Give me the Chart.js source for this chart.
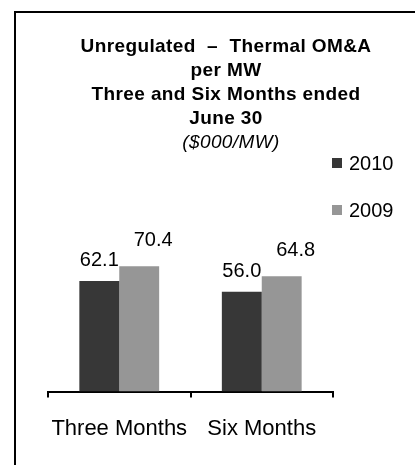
<!DOCTYPE html>
<html>
<head>
<meta charset="utf-8">
<script src="https://cdn.jsdelivr.net/npm/chart.js@4.4.1/dist/chart.umd.min.js"></script>
<style>
  html, body { margin: 0; padding: 0; background: #fff; }
  #wrap { position: relative; width: 415px; height: 467px; }
</style>
</head>
<body>
<div id="wrap"><canvas id="chart" width="415" height="467"></canvas></div>
<script>
const categories = ['Three Months', 'Six Months'];
const seriesNames = ['2010', '2009'];
const values2010 = [62.1, 56.0];
const values2009 = [70.4, 64.8];
const titleLines = ['Unregulated  \u2013  Thermal OM&A', 'per MW', 'Three and Six Months ended', 'June 30'];
const subtitleLine = '($000/MW)';

const FONT = '"Liberation Sans", Arial, sans-serif';

// outer frame: left and top rule only
const framePlugin = {
    id: 'frame',
    beforeDraw: (chart) => {
        const ctx = chart.ctx;
        ctx.save();
        ctx.fillStyle = '#fff';
        ctx.fillRect(0, 0, chart.width, chart.height);
        ctx.fillStyle = '#000';
        ctx.fillRect(14, 11, 2, 454);
        ctx.fillRect(14, 11, chart.width - 14, 2);
        ctx.restore();
    }
};

const headerPlugin = {
    id: 'header',
    afterDraw: (chart) => {
        const ctx = chart.ctx;
        ctx.save();
        ctx.fillStyle = '#000';
        ctx.textAlign = 'center';
        ctx.textBaseline = 'alphabetic';
        ctx.letterSpacing = '0.4px';
        ctx.font = 'bold 19px ' + FONT;
        titleLines.forEach((line, i) => {
            ctx.fillText(line, 226, 52 + i * 24);
        });
        ctx.font = 'italic 19px ' + FONT;
        ctx.fillText(subtitleLine, 231, 148);
        ctx.restore();
    }
};

const legendPlugin = {
    id: 'sideLegend',
    afterDraw: (chart) => {
        const ctx = chart.ctx;
        ctx.save();
        ctx.font = '20px ' + FONT;
        ctx.textBaseline = 'middle';
        ctx.textAlign = 'left';
        chart.data.datasets.forEach((ds, i) => {
            const y = 163 + i * 47;
            ctx.fillStyle = ds.backgroundColor;
            ctx.fillRect(332, y - 5, 10, 10);
            ctx.fillStyle = '#000';
            ctx.fillText(ds.label, 349, y + 1);
        });
        ctx.restore();
    }
};

const valueLabelPlugin = {
    id: 'valueLabels',
    afterDatasetsDraw: (chart, args, opts) => {
        const ctx = chart.ctx;
        ctx.save();
        ctx.font = '20px ' + FONT;
        ctx.fillStyle = '#000';
        ctx.textAlign = 'center';
        ctx.textBaseline = 'alphabetic';
        chart.data.datasets.forEach((ds, i) => {
            const meta = chart.getDatasetMeta(i);
            const off = opts.offsets[i];
            meta.data.forEach((bar, j) => {
                ctx.fillText(ds.data[j].toFixed(1), bar.x + off.dx, bar.y - off.dy);
            });
        });
        ctx.restore();
    }
};

new Chart(document.getElementById('chart'), {
    type: 'bar',
    data: {
        labels: categories,
        datasets: [
            { label: seriesNames[0], data: values2010, backgroundColor: '#373737' },
            { label: seriesNames[1], data: values2009, backgroundColor: '#969696' }
        ]
    },
    options: {
        responsive: false,
        animation: false,
        events: [],
        categoryPercentage: 0.56,
        barPercentage: 1,
        layout: { padding: { left: 48, right: 82, top: 213.5, bottom: 7 } },
        plugins: {
            legend: { display: false },
            title: { display: false },
            tooltip: { enabled: false },
            valueLabels: { offsets: [{ dx: 0, dy: 15 }, { dx: 14, dy: 20.5 }] }
        },
        scales: {
            y: { display: false, min: 0, max: 100 },
            x: {
                border: { display: true, color: '#000', width: 2 },
                grid: { drawOnChartArea: false, drawTicks: true, tickLength: 6, color: '#000', lineWidth: 2 },
                ticks: { color: '#000', padding: 18, font: { family: FONT, size: 22 } }
            }
        }
    },
    plugins: [framePlugin, valueLabelPlugin, legendPlugin, headerPlugin]
});
</script>
</body>
</html>
